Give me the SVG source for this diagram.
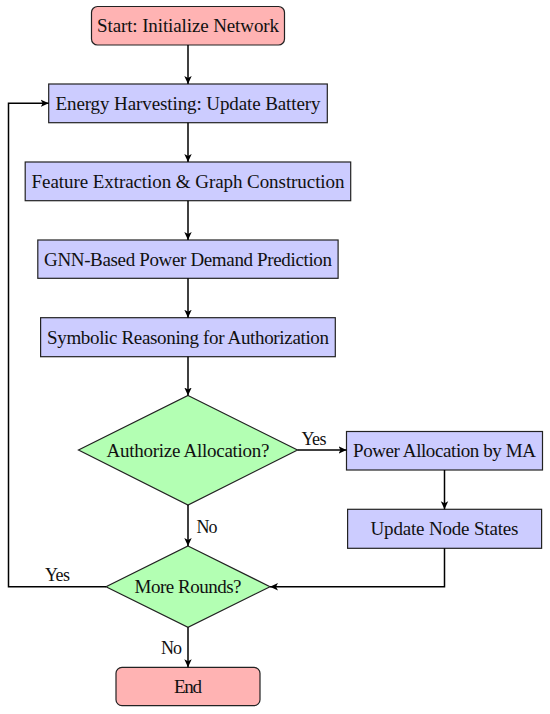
<svg xmlns="http://www.w3.org/2000/svg" width="550" height="714" viewBox="0 0 550 714">
<defs>
<marker id="ah" markerWidth="10" markerHeight="10" refX="8" refY="4.5" orient="auto" markerUnits="userSpaceOnUse">
<path d="M0,0.8 L8,4.5 L0,8.2 L2,4.5 Z" fill="#000"/>
</marker>
</defs>
<style>
.term{fill:#ffb3b3;stroke:#222;stroke-width:1.2}
.proc{fill:#ccccff;stroke:#222;stroke-width:1.2}
.dec{fill:#b3ffb3;stroke:#222;stroke-width:1.2}
text{font-family:"Liberation Serif","DejaVu Serif",serif;font-size:19px;fill:#111;text-anchor:middle}
.lbl{font-size:18px}
.edge{fill:none;stroke:#000;stroke-width:1.5;marker-end:url(#ah)}
</style>
<g id="start"><rect class="term" x="91.5" y="6.5" width="193" height="38.5" rx="6"/><text x="188" y="32" textLength="182">Start: Initialize Network</text></g>
<g id="energy"><rect class="proc" x="48.7" y="84" width="278.6" height="38.7"/><text x="188" y="109.5" textLength="265">Energy Harvesting: Update Battery</text></g>
<g id="feature"><rect class="proc" x="25.2" y="162" width="325.5" height="38.7"/><text x="188" y="187.5" textLength="313">Feature Extraction &amp; Graph Construction</text></g>
<g id="gnn"><rect class="proc" x="37.8" y="240" width="300.3" height="38.3"/><text x="188" y="265.5" textLength="288">GNN-Based Power Demand Prediction</text></g>
<g id="symbolic"><rect class="proc" x="40.6" y="317.7" width="294.7" height="39"/><text x="188" y="343.5" textLength="282">Symbolic Reasoning for Authorization</text></g>
<g id="authorize"><polygon class="dec" points="188,395.5 297.5,450 188,505 78.5,450"/><text x="188" y="456.5" textLength="163">Authorize Allocation?</text></g>
<g id="power"><rect class="proc" x="346.5" y="431.5" width="196" height="38.5"/><text x="444.5" y="457" textLength="183">Power Allocation by MA</text></g>
<g id="update"><rect class="proc" x="347.6" y="509.3" width="194" height="39"/><text x="444.5" y="535" textLength="148">Update Node States</text></g>
<g id="more"><polygon class="dec" points="188,546 270,586.7 188,627.3 106,586.7"/><text x="188" y="593" textLength="107">More Rounds?</text></g>
<g id="end"><rect class="term" x="116" y="667.3" width="144" height="38.4" rx="6"/><text x="188" y="693" textLength="28">End</text></g>
<g id="connectors">
<path class="edge" d="M188,45 L188,84"/>
<path class="edge" d="M188,122.7 L188,162"/>
<path class="edge" d="M188,200.7 L188,240"/>
<path class="edge" d="M188,278.3 L188,317.7"/>
<path class="edge" d="M188,356.7 L188,395.5"/>
<path class="edge" d="M297.5,450 L346.5,450"/>
<path class="edge" d="M444.5,470 L444.5,509.3"/>
<path class="edge" d="M188,505 L188,546"/>
<path class="edge" d="M444.5,548.3 L444.5,586.7 L270,586.7"/>
<path class="edge" d="M188,627.3 L188,667.3"/>
<path class="edge" d="M106,586.7 L8.5,586.7 L8.5,103.3 L48.7,103.3"/>
<text class="lbl" x="314" y="445" textLength="25">Yes</text>
<text class="lbl" x="207" y="532.5" textLength="21">No</text>
<text class="lbl" x="57.5" y="581" textLength="25">Yes</text>
<text class="lbl" x="171.5" y="654" textLength="21">No</text>
</g>
</svg>
